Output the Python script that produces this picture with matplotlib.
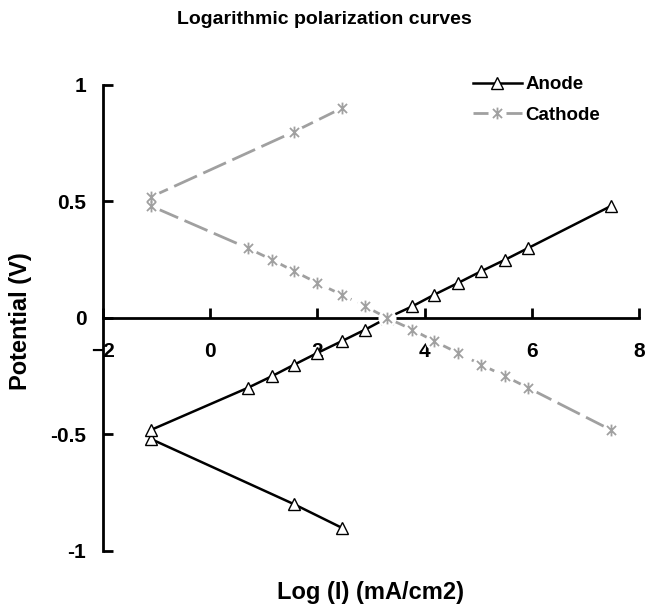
import numpy as np
import matplotlib
matplotlib.use('Agg')
import matplotlib.pyplot as plt
from matplotlib.path import Path
from matplotlib.legend_handler import HandlerTuple

plt.rcParams['font.family'] = ['Liberation Sans', 'DejaVu Sans']
plt.rcParams['font.weight'] = 'bold'

# log(I) values, same for both curves
log_i = [2.45, 1.57, -1.1, -1.1, 0.7, 1.15, 1.57, 2.0, 2.45, 2.89, 3.3,
         3.77, 4.18, 4.62, 5.05, 5.5, 5.93, 7.47]
anode = [-0.9, -0.8, -0.52, -0.48, -0.3, -0.25, -0.2, -0.15, -0.1, -0.05, 0.0,
         0.05, 0.1, 0.15, 0.2, 0.25, 0.3, 0.48]
cathode = [0.9, 0.8, 0.52, 0.48, 0.3, 0.25, 0.2, 0.15, 0.1, 0.05, 0.0,
           -0.05, -0.1, -0.15, -0.2, -0.25, -0.3, -0.48]

xticks = [-2, 0, 2, 4, 6, 8]
yticks = [-1, -0.5, 0, 0.5, 1]
ytick_labels = ['-1', '-0.5', '0', '0.5', '1']

grey = '#a0a0a0'

# excel style star: an x with a vertical bar through it
star = Path([(-1, -1), (1, 1), (-1, 1), (1, -1), (0, -1.3), (0, 1.3)],
            [Path.MOVETO, Path.LINETO, Path.MOVETO, Path.LINETO, Path.MOVETO, Path.LINETO])

fig = plt.figure(figsize=(6.46, 6.06), dpi=100)
ax = fig.add_axes([0.1594, 0.0908, 0.830, 0.769])

an, = ax.plot(log_i, anode, color='black', lw=1.8, marker='^', markersize=8,
              markerfacecolor='white', markeredgecolor='black', markeredgewidth=1,
              zorder=3)
# cathode: long-dash line, white halo round each star, then the stars
cl, = ax.plot(log_i, cathode, color=grey, lw=2, dashes=(9, 2.5), zorder=4)
ch, = ax.plot(log_i, cathode, ls='none', marker='o', markersize=13,
              markerfacecolor='white', markeredgecolor='none', zorder=5)
cm, = ax.plot(log_i, cathode, ls='none', marker=star, markersize=8.5,
              markeredgecolor=grey, markeredgewidth=1.3, zorder=6)

ax.set_xlim(-2, 8)
ax.set_ylim(-1, 1)
ax.spines['bottom'].set_position(('data', 0))
ax.spines['top'].set_visible(False)
ax.spines['right'].set_visible(False)
for s in ('left', 'bottom'):
    ax.spines[s].set_linewidth(2)

ax.set_xticks(xticks)
ax.set_yticks(yticks)
ax.set_yticklabels(ytick_labels)
ax.tick_params(axis='x', direction='in', length=7, width=2, pad=17, labelsize=15)
ax.tick_params(axis='y', direction='in', length=7, width=2, pad=12, labelsize=15)

fig.text(0.0325, 0.470, 'Potential (V)', rotation=90, fontsize=17, fontweight='bold',
         ha='center', va='center')
fig.text(0.574, 0.0215, 'Log (I) (mA/cm2)', fontsize=17, fontweight='bold',
         ha='center', va='center')
fig.text(0.5015, 0.968, 'Logarithmic polarization curves', fontsize=14,
         fontweight='bold', ha='center', va='center')

fig.legend([an, (cl, ch, cm)], ['Anode', 'Cathode'],
           handler_map={tuple: HandlerTuple(ndivide=1)},
           loc='upper left', bbox_to_anchor=(473 / 646, 1 - 76 / 606),
           frameon=False, fontsize=13.5, handlelength=2.6, handletextpad=0.2,
           labelspacing=0.72, borderpad=0, borderaxespad=0)

fig.savefig('out.png', dpi=100)
